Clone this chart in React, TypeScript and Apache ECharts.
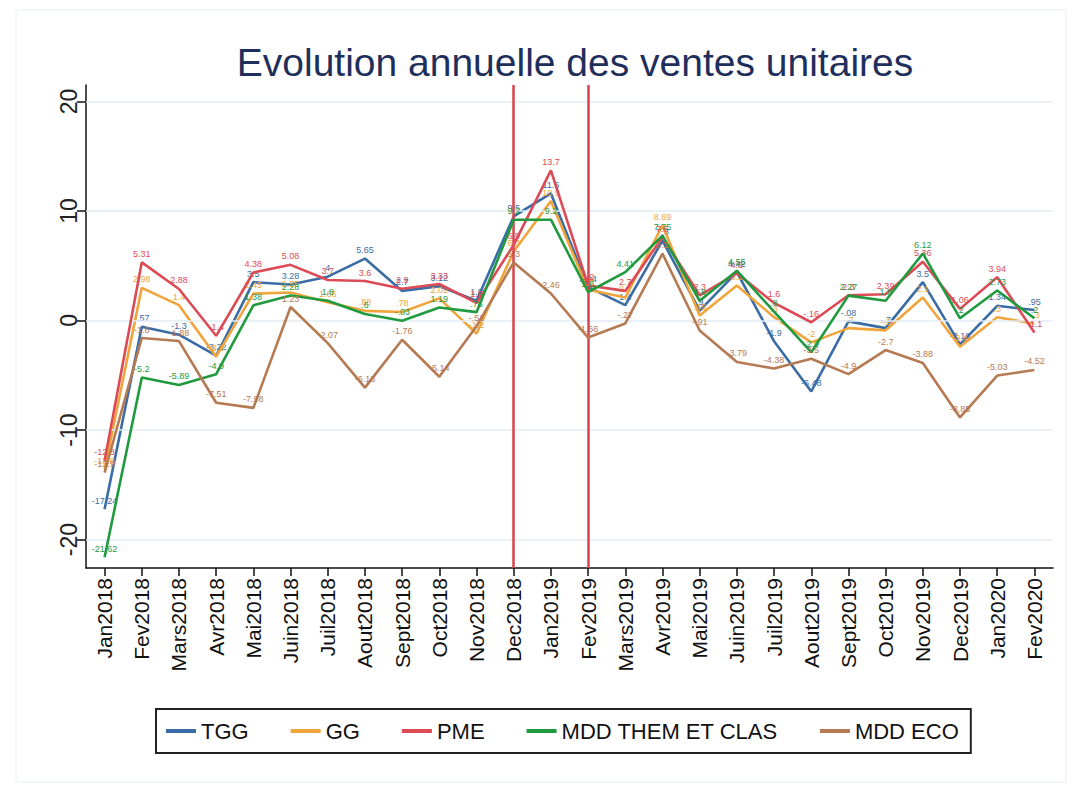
import React, { useEffect, useRef } from "react";
import * as echarts from "echarts";

const months = ["Jan2018","Fev2018","Mars2018","Avr2018","Mai2018","Juin2018","Juil2018","Aout2018","Sept2018","Oct2018","Nov2018","Dec2018","Jan2019","Fev2019","Mars2019","Avr2019","Mai2019","Juin2019","Juil2019","Aout2019","Sept2019","Oct2019","Nov2019","Dec2019","Jan2020","Fev2020"];

const tgg = [-17.24, -0.57, -1.3, -3.22, 3.5, 3.28, 4.0, 5.65, 2.7, 3.12, 1.8, 9.5, 11.6, 3.04, 1.4, 7.3, 0.9, 4.42, -1.9, -6.48, -0.08, -0.7, 3.5, -2.18, 1.34, 0.95];
const gg = [-13.6, 2.98, 1.4, -3.3, 2.45, 2.55, 1.66, 0.88, 0.78, 2.02, -1.2, 6.3, 10.9, 2.8, 2.1, 8.69, 0.45, 3.2, 0.3, -2.0, -0.7, -0.9, 2.1, -2.4, 0.3, -0.3];
const pme = [-12.8, 5.31, 2.88, -1.4, 4.38, 5.08, 3.7, 3.6, 2.9, 3.33, 1.6, 6.9, 13.7, 3.2, 2.7, 7.6, 2.3, 4.3, 1.6, -0.16, 2.3, 2.39, 5.36, 1.06, 3.94, -1.1];
const mddThem = [-21.62, -5.2, -5.89, -4.9, 1.38, 2.28, 1.8, 0.6, -0.03, 1.19, 0.76, 9.2, 9.2, 2.6, 4.41, 7.75, 1.8, 4.55, 0.8, -2.9, 2.27, 1.8, 6.12, 0.2, 2.73, 0.2];
const mddEco = [-13.9, -1.6, -1.88, -7.51, -7.98, 1.23, -2.07, -6.13, -1.76, -5.14, -0.52, 5.3, 2.46, -1.56, -0.27, 6.1, -0.91, -3.79, -4.38, -3.5, -4.9, -2.7, -3.88, -8.85, -5.03, -4.52];

const yTicks = [-20, -10, 0, 10, 20];
const eventMonths = ["Dec2018", "Fev2019"];

const seriesDefs = [
  { name: "TGG", data: tgg, color: "#3a6ca6" },
  { name: "GG", data: gg, color: "#f0a53c" },
  { name: "PME", data: pme, color: "#dc4b55" },
  { name: "MDD THEM ET CLAS", data: mddThem, color: "#1f9a3e" },
  { name: "MDD ECO", data: mddEco, color: "#b67a52" },
];

function fmt(v: number): string {
  const s = String(Math.round(v * 100) / 100);
  return s.replace(/^(-?)0\./, "$1.");
}

export default function App() {
  const ref = useRef<HTMLDivElement>(null);
  useEffect(() => {
    if (!ref.current) return;
    const chart = echarts.init(ref.current, undefined, { renderer: "svg" });
    const font = "'Liberation Sans', Arial, sans-serif";
    const option: any = {
      animation: false,
      backgroundColor: "#ffffff",
      title: {
        text: "Evolution annuelle des ventes unitaires",
        left: 570,
        textAlign: "center",
        top: 38,
        textStyle: { fontFamily: font, fontSize: 39, fontWeight: "normal", color: "#1f2f5c" },
      },
      graphic: [
        {
          type: "rect",
          shape: { x: 16, y: 10, width: 1050, height: 772 },
          style: { fill: "none", stroke: "#e9eef3", lineWidth: 1 },
          silent: true,
        },
      ],
      legend: {
        data: seriesDefs.map((s) => s.name),
        left: 156,
        top: 709,
        orient: "horizontal",
        padding: [11, 12, 11, 10],
        borderColor: "#222",
        borderWidth: 2,
        itemGap: 42,
        itemWidth: 30,
        itemHeight: 4,
        icon: "rect",
        textStyle: { fontFamily: font, fontSize: 22, color: "#111" },
      },
      grid: { left: 86, right: 27, top: 85, bottom: 219, containLabel: false },
      xAxis: {
        type: "category",
        data: months,
        boundaryGap: true,
        axisLine: { show: true, onZero: false, lineStyle: { color: "#111", width: 1.5 } },
        axisTick: { show: true, alignWithLabel: true, length: 8, lineStyle: { color: "#111", width: 1.5 } },
        axisLabel: { rotate: 90, fontFamily: font, fontSize: 21, color: "#111", margin: 10, interval: 0 },
        splitLine: { show: false },
      },
      yAxis: {
        type: "value",
        min: -22.6,
        max: 21.5,
        axisLine: { show: true, lineStyle: { color: "#111", width: 1.5 } },
        axisTick: { show: true, length: 9, customValues: yTicks, lineStyle: { color: "#111", width: 1.5 } },
        axisLabel: {
          rotate: 90,
          fontFamily: font,
          fontSize: 23,
          color: "#222",
          margin: 6,
          customValues: yTicks,
          formatter: (v: number) => String(v),
        },
        splitLine: { show: false },
      },
      series: [
        {
          name: "grid",
          type: "line",
          data: [],
          z: 1,
          silent: true,
          markLine: {
            silent: true,
            symbol: "none",
            label: { show: false },
            lineStyle: { color: "#e1edf4", width: 1.5, type: "solid" },
            data: yTicks.map((t) => ({ yAxis: t })),
          },
        },
        {
          name: "events",
          type: "line",
          data: [],
          z: 2,
          silent: true,
          markLine: {
            silent: true,
            symbol: "none",
            label: { show: false },
            lineStyle: { color: "#d9434e", width: 2.5, type: "solid" },
            data: eventMonths.map((m) => ({ xAxis: m })),
          },
        },
        ...seriesDefs.map((s, i) => ({
          name: s.name,
          type: "line",
          data: s.data,
          z: 3 + i,
          symbol: "circle",
          symbolSize: 0,
          showSymbol: true,
          showAllSymbol: true,
          lineStyle: { color: s.color, width: 2.6 },
          itemStyle: { color: s.color },
          label: {
            show: true,
            position: "top",
            distance: 4,
            fontFamily: font,
            fontSize: 9,
            color: s.color,
            formatter: (p: any) => fmt(p.value),
          },
          labelLayout: { hideOverlap: false },
        })),
      ],
    };
    chart.setOption(option);
    return () => chart.dispose();
  }, []);
  return (
    <div
      ref={ref}
      style={{ position: "absolute", left: 0, top: 0, width: 1080, height: 787 }}
    />
  );
}
